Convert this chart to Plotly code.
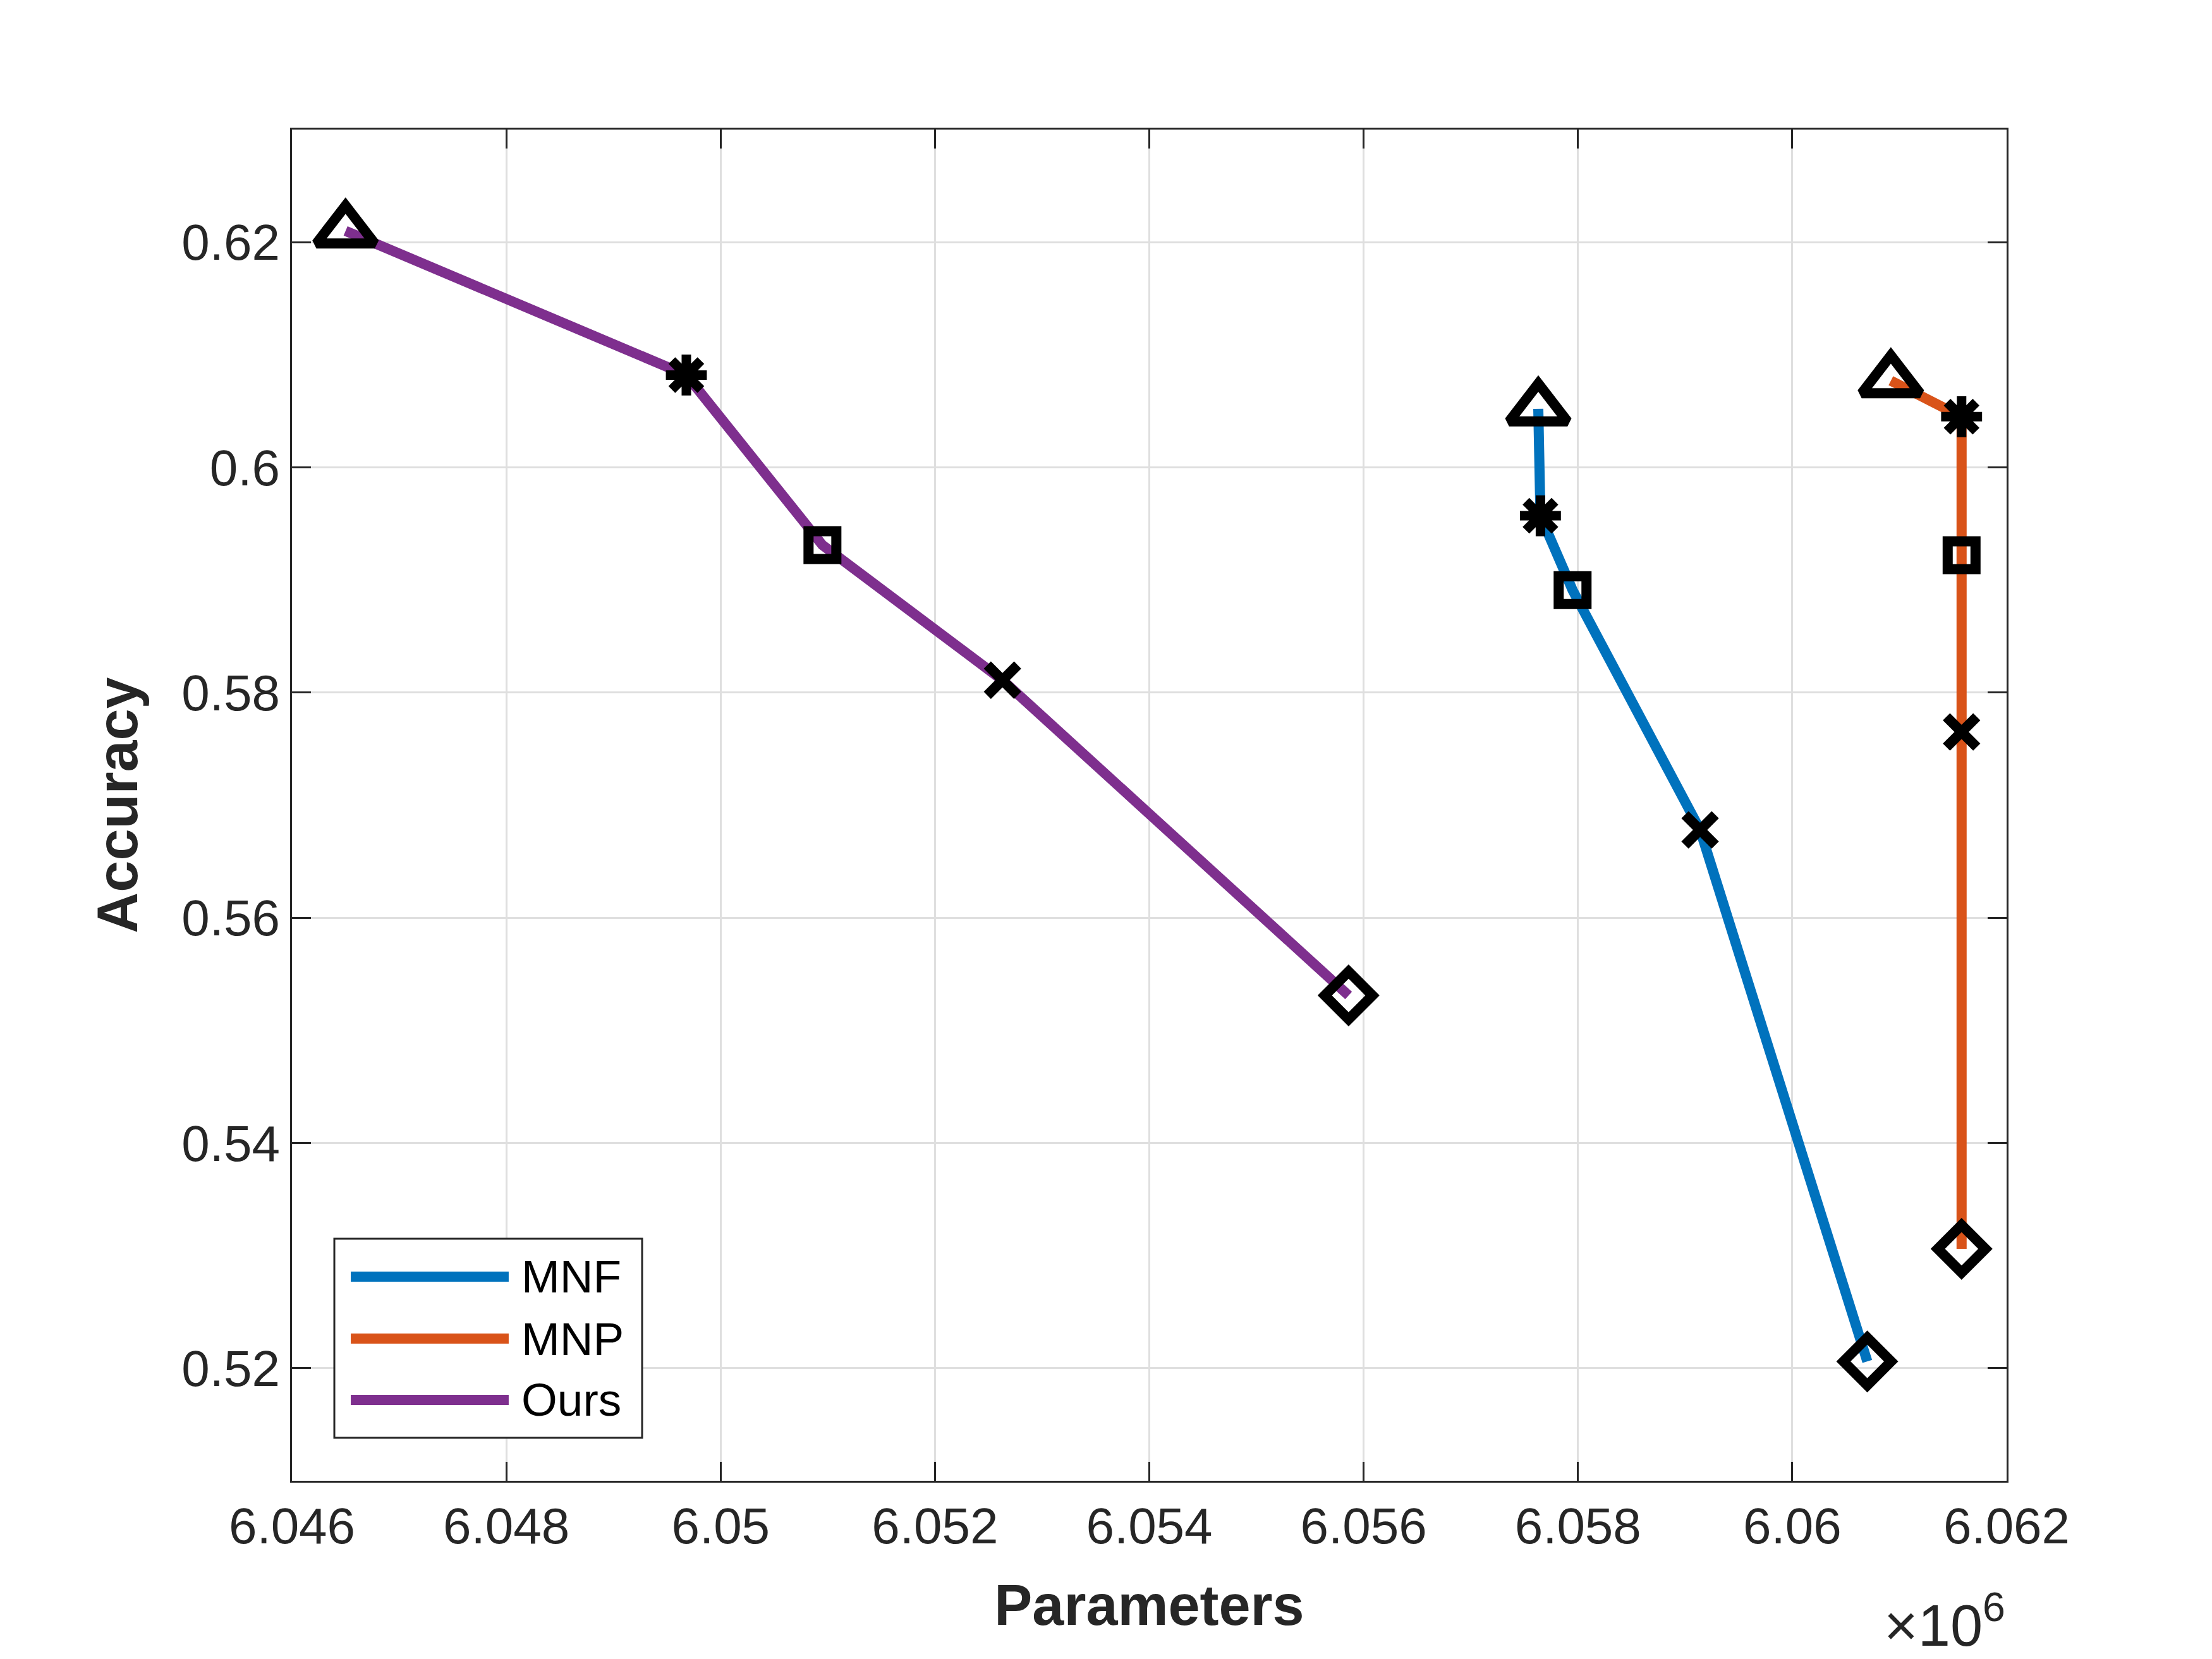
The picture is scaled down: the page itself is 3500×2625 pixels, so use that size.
import plotly.graph_objects as go

# parameter counts and accuracy
mnf_params = [6057630, 6057650, 6057950, 6059140, 6060700]
mnf_acc = [0.6052, 0.5957, 0.5891, 0.5678, 0.5206]

mnp_params = [6060920, 6061580, 6061580, 6061580, 6061580]
mnp_acc = [0.6077, 0.6045, 0.5922, 0.5765, 0.5306]

ours_params = [6046500, 6049680, 6050950, 6052630, 6055860]
ours_acc = [0.6210, 0.6082, 0.5931, 0.5811, 0.5531]

series_names = ['MNF', 'MNP', 'Ours']

x_tickvals = [6046000, 6048000, 6050000, 6052000, 6054000, 6056000, 6058000, 6060000, 6062000]
x_ticktext = ['6.046', '6.048', '6.05', '6.052', '6.054', '6.056', '6.058', '6.06', '6.062']
y_tickvals = [0.52, 0.54, 0.56, 0.58, 0.60, 0.62]
y_ticktext = ['0.52', '0.54', '0.56', '0.58', '0.6', '0.62']

# styling (matlab default colours, one marker shape per point)
colors = ['#0072BD', '#D95319', '#7E2F8E']
symbols = ['triangle-up-open', 'asterisk-open', 'square-open', 'x-thin-open', 'diamond-open']
symbol_size = {'triangle-up-open': 80, 'asterisk-open': 54, 'square-open': 44,
               'x-thin-open': 48, 'diamond-open': 58}
symbol_width = {'triangle-up-open': 16, 'asterisk-open': 15, 'square-open': 16,
                'x-thin-open': 16, 'diamond-open': 16}
AX = '#262626'
FONT = 'Liberation Sans, Arial, Helvetica, sans-serif'

data = [(mnf_params, mnf_acc), (mnp_params, mnp_acc), (ours_params, ours_acc)]

fig = go.Figure()
for (xs, ys), name, col in zip(data, series_names, colors):
    fig.add_trace(go.Scatter(x=xs, y=ys, mode='lines', name=name,
                             line=dict(color=col, width=16), showlegend=False))
for xs, ys in data:
    fig.add_trace(go.Scatter(
        x=xs, y=ys, mode='markers', showlegend=False, hoverinfo='skip',
        marker=dict(symbol=symbols, size=[symbol_size[s] for s in symbols], opacity=1,
                    color='black',
                    line=dict(color='black', width=[symbol_width[s] for s in symbols]))))

# hand-drawn legend box, matlab style (long line samples)
shapes = [dict(type='rect', xref='paper', yref='paper', x0=0.0247, x1=0.2042, y0=0.0318, y1=0.1791,
               line=dict(color=AX, width=3), fillcolor='white', layer='above')]
annotations = []
rows = [0.1511, 0.1052, 0.0599]
for name, col, yr in zip(series_names, colors, rows):
    shapes.append(dict(type='line', xref='paper', yref='paper', x0=0.0343, x1=0.1264, y0=yr, y1=yr,
                       line=dict(color=col, width=16), layer='above'))
    annotations.append(dict(xref='paper', yref='paper', x=0.1330, y=yr, text=name, showarrow=False,
                            xanchor='left', yanchor='middle', font=dict(size=73, color='black', family=FONT)))

# matlab exponent label under the right end of the x axis
annotations.append(dict(xref='paper', yref='paper', x=1.0, y=-0.104,
                        text='\u00d710<sup>6</sup>',
                        showarrow=False, xanchor='right', yanchor='middle',
                        font=dict(size=92, color=AX, family=FONT)))

axis_common = dict(showline=True, linecolor=AX, linewidth=3, mirror='ticks',
                   ticks='inside', ticklen=30, tickwidth=3, tickcolor=AX,
                   showgrid=True, gridcolor='#dfdfdf', gridwidth=3, zeroline=False,
                   tickfont=dict(size=80, color=AX, family=FONT))

fig.update_layout(
    width=3500, height=2625,
    margin=dict(l=454, r=333, t=197, b=290),
    paper_bgcolor='white', plot_bgcolor='white',
    shapes=shapes, annotations=annotations,
    xaxis=dict(range=[6046000, 6062000], tickvals=x_tickvals, ticktext=x_ticktext,
               title=dict(text='<b>Parameters</b>', standoff=50,
                          font=dict(size=90, color=AX, family=FONT)),
               **axis_common),
    yaxis=dict(range=[0.51, 0.63], tickvals=y_tickvals, ticktext=y_ticktext,
               title=dict(text='<b>Accuracy</b>', standoff=40,
                          font=dict(size=90, color=AX, family=FONT)),
               **axis_common),
)

fig.write_html("out.html")
